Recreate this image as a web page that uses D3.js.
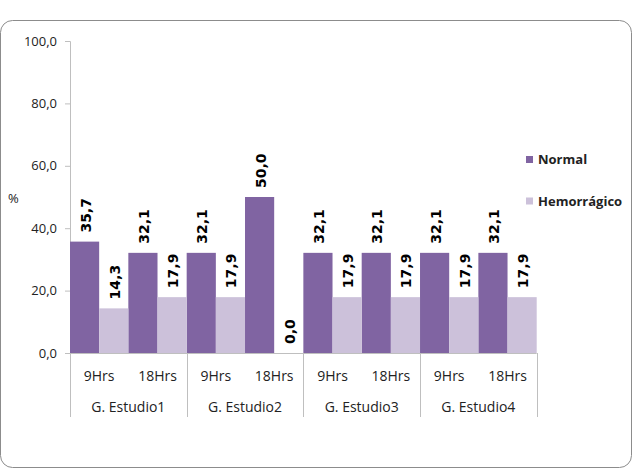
<!DOCTYPE html>
<html>
<head>
<meta charset="utf-8">
<script src="https://cdn.jsdelivr.net/npm/d3@7"></script>
<style>
  html, body { margin: 0; padding: 0; background: #fff; }
  svg { display: block; }
</style>
</head>
<body>
<svg id="chart" width="636" height="475"></svg>
<script>
// ---- Data ----
const groups = ["G. Estudio1", "G. Estudio2", "G. Estudio3", "G. Estudio4"];
const times = ["9Hrs", "18Hrs"];
const seriesNames = ["Normal", "Hemorrágico"];
const normalValues = [35.7, 32.1, 32.1, 50.0, 32.1, 32.1, 32.1, 32.1];
const hemorragicoValues = [14.3, 17.9, 17.9, 0.0, 17.9, 17.9, 17.9, 17.9];
const yTicks = [0, 20, 40, 60, 80, 100];
const colors = ["#8064A2", "#CCC1DA"];

const categories = [];
groups.forEach(g => times.forEach(t => categories.push(g + "|" + t)));
const seriesValues = [normalValues, hemorragicoValues];

const svg = d3.select("#chart");
const W = 636, H = 475;
svg.append("rect").attr("width", W).attr("height", H).attr("fill", "#fff");

// outer frame
svg.append("rect")
  .attr("x", 0.5).attr("y", 20.5).attr("width", 631).attr("height", 447)
  .attr("rx", 12).attr("ry", 12)
  .attr("fill", "#fff").attr("stroke", "#8c8c8c").attr("stroke-width", 1);

const plotLeft = 70, plotRight = 536.7, plotTop = 41, plotBottom = 353;

const y = d3.scaleLinear().domain([0, 100]).range([plotBottom, plotTop]);
const x = d3.scaleBand().domain(categories).range([plotLeft, plotRight]).padding(0);
const xs = d3.scaleBand().domain(seriesNames).range([0, x.bandwidth()]).padding(0);
const xg = d3.scaleBand().domain(groups).range([plotLeft, plotRight]).padding(0);

const fmt = v => v.toFixed(1).replace(".", ",");
const axisColor = "#bfbfbf";
const textFont = "'Open Sans', sans-serif";

// Y axis
const yAxis = d3.axisLeft(y).tickValues(yTicks).tickSize(5).tickPadding(8).tickFormat(fmt);
const gy = svg.append("g").attr("transform", `translate(${plotLeft},0)`).call(yAxis);
gy.select(".domain").attr("stroke", axisColor);
gy.selectAll(".tick line").attr("stroke", axisColor);
gy.selectAll(".tick text")
  .attr("font-family", textFont).attr("font-size", 13).attr("fill", "#222");

// bars
seriesNames.forEach((s, si) => {
  svg.append("g").selectAll("rect")
    .data(seriesValues[si])
    .join("rect")
    .attr("x", (d, i) => x(categories[i]) + xs(s))
    .attr("width", xs.bandwidth())
    .attr("y", d => y(d))
    .attr("height", d => y(0) - y(d))
    .attr("fill", colors[si]);
});

// data labels
seriesNames.forEach((s, si) => {
  svg.append("g").selectAll("text")
    .data(seriesValues[si])
    .join("text")
    .attr("transform", (d, i) => {
      const cx = x(categories[i]) + xs(s) + xs.bandwidth() / 2 + 1;
      const cy = y(d) - 9;
      return `translate(${cx},${cy}) rotate(-90)`;
    })
    .attr("text-anchor", "start")
    .attr("dy", "0.36em")
    .attr("font-family", "'DejaVu Sans', sans-serif")
    .attr("font-weight", "bold")
    .attr("font-size", 14)
    .attr("fill", "#000")
    .text(d => fmt(d));
});

// X axis line
svg.append("line")
  .attr("x1", plotLeft).attr("x2", plotRight)
  .attr("y1", plotBottom + 0.5).attr("y2", plotBottom + 0.5)
  .attr("stroke", axisColor);

// group separators
const sepXs = groups.map(g => xg(g)).concat([plotRight]);
svg.append("g").selectAll("line")
  .data(sepXs)
  .join("line")
  .attr("x1", d => Math.round(d) + 0.5).attr("x2", d => Math.round(d) + 0.5)
  .attr("y1", plotBottom).attr("y2", 417)
  .attr("stroke", axisColor);

// category labels
svg.append("g").selectAll("text")
  .data(categories)
  .join("text")
  .attr("x", d => x(d) + x.bandwidth() / 2)
  .attr("y", 380.5)
  .attr("text-anchor", "middle")
  .attr("font-family", textFont).attr("font-size", 14).attr("fill", "#222")
  .text(d => d.split("|")[1]);

// group labels
svg.append("g").selectAll("text")
  .data(groups)
  .join("text")
  .attr("x", d => xg(d) + xg.bandwidth() / 2)
  .attr("y", 411.5)
  .attr("text-anchor", "middle")
  .attr("font-family", textFont).attr("font-size", 14).attr("fill", "#222")
  .text(d => d);

// y title
svg.append("text")
  .attr("x", 8).attr("y", 203)
  .attr("font-family", textFont).attr("font-size", 13).attr("fill", "#222")
  .text("%");

// legend
const legendY = [159.5, 201];
seriesNames.forEach((s, si) => {
  svg.append("rect")
    .attr("x", 526).attr("y", legendY[si] - 3.5).attr("width", 7).attr("height", 7)
    .attr("fill", colors[si]);
  svg.append("text")
    .attr("x", 538).attr("y", legendY[si] + 4.5)
    .attr("font-family", textFont).attr("font-weight", "bold").attr("font-size", 13)
    .attr("fill", "#222")
    .text(s);
});
</script>
</body>
</html>
